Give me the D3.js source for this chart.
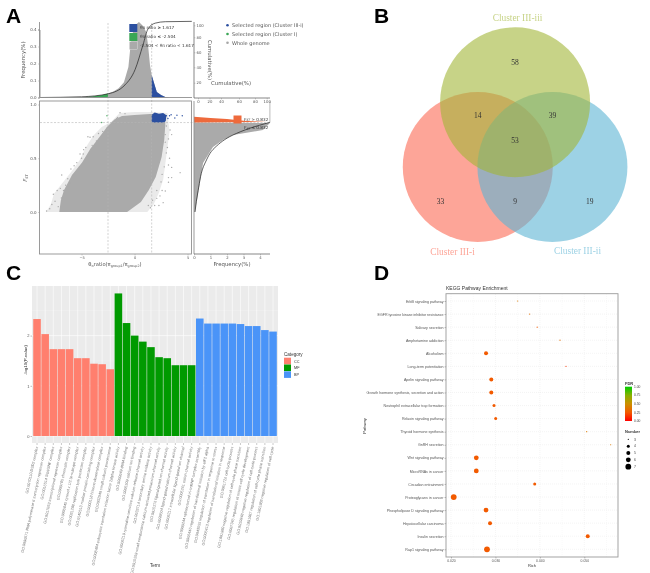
<!DOCTYPE html>
<html><head><meta charset="utf-8">
<script src="https://cdn.jsdelivr.net/npm/d3@7/dist/d3.min.js"></script>
<style>
html,body{margin:0;padding:0;background:#fff}
svg{display:block;filter:blur(.3px)}
text{font-family:"Liberation Sans",Arial,sans-serif}
</style></head><body><svg id="c" width="650" height="573" viewBox="0 0 650 573"></svg>
<script>
// ---------- Panel A data ----------
const histTop=[[-8.9,0],[-5,.002],[-4,.006],[-3,.015],[-2.504,.024],[-2,.035],[-1.5,.055],[-1,.09],[-.58,.18],[-.42,.28],[-.24,.37],[.14,.43],[.42,.444],[.8,.42],[1.1,.385],[1.27,.31],[1.46,.19],[1.617,.132],[1.84,.085],[2.1,.032],[2.5,.015],[2.9,.003],[3.35,0]];
const cumTop=[[-8.9,0],[-5,1],[-2.5,5],[-.9,17],[.05,37],[.8,70],[1.27,94],[1.95,103],[2.9,105],[5.4,105.5]];
const cloudFringe=[[-8.35,0],[-7.9,.07],[-7.6,.17],[-6.8,.27],[-6,.37],[-5.2,.48],[-4.6,.6],[-3.9,.71],[-3.1,.79],[-2.2,.84],[-1.4,.92],[0,.93],[1.5,.93],[3.1,.92],[3.3,.75],[3.1,.6],[2.9,.45],[2.7,.3],[2.3,.18],[1.8,.07],[1.2,0]];
const cloudCore=[[-7.1,0],[-6.95,.11],[-6.65,.205],[-5.9,.344],[-4.95,.46],[-4.15,.59],[-3.45,.68],[-2.6,.79],[-1.9,.86],[-1.18,.893],[0,.902],[1.46,.912],[2.88,.912],[2.9,.81],[2.8,.67],[2.55,.51],[2.0,.326],[1.35,.205],[.6,.093],[-.7,0]];
const blueCore=[[1.617,.832],[1.617,.905],[1.9,.925],[2.3,.915],[2.7,.92],[3,.9],[2.95,.85],[2.8,.832]];
const blueOut=[[3.0,.895],[3.3,.895],[3.45,.905],[3.8,.875],[4.5,.895],[4.0,.9],[3.15,.87]];
const greenOut=[[-2.6,.895],[-3.1,.832]];
const grayOut=[[4.3,.366],[3.5,.415],[3.2,.437],[3.5,.32],[3.2,.32],[3.2,.277],[2.7,.087],[2.9,.195],[2.1,.127],[-6.87,.344],[-5.45,.459],[-5.14,.54],[-4.84,.54],[-7.66,.165],[-4.2,.695],[-3.4,.73],[-1.37,.924],[3.35,.763],[3.5,.72],[-3.9,.7],[-4.4,.7],[-6,.4],[-5.7,.43],[-6.3,.31],[-7,.22],[-7.3,.2],[-6.5,.25],[-5,.5],[-4.6,.6],[-4.8,.58],[-3,.75],[-2.6,.78],[-2,.84],[-1.7,.87],[3.1,.6],[3,.55],[3.3,.5],[2.9,.65],[3.2,.68],[2.6,.2],[2.4,.15],[2.3,.06],[1.9,.06],[1.5,.04],[-8,.03],[-7.8,.07],[-8.3,.01],[-7.5,.1],[-7.2,.05],[-6.9,.13],[-6.7,.2],[-6.1,.27],[-5.5,.37],[-5.2,.42],[-4.4,.52],[-4,.62],[-3.6,.66],[-1.6,.88],[-.9,.915],[3,.8],[2.9,.72],[2.8,.42],[2.6,.35],[2.5,.28],[2.1,.2],[1.7,.11],[1.3,.06]];
const fstRight=[[.06,0],[.55,.456],[1.15,.605],[1.76,.67],[2.36,.716],[4.18,.763],[4.6,.828]];
const fstOrange=[[0,.832],[0,.885],[1,.875],[2,.865],[3,.85],[4.4,.838]];
const fstCum=[[.06,0],[.25,.2],[.67,.456],[1.27,.6],[2.36,.716],[3.4,.78],[4.6,.834]];
const cumTicksX=[0,20,40,60,80,100], cumTicksY=[20,40,60,80,100];
const thrLow=-2.504, thrHigh=1.617, thrFst=.832;
const legendA=[["Selected region (Cluster III-i)","#2b4fa0"],["Selected region (Cluster I)","#3aa655"],["Whole genome","#a6a6a6"]];
// ---------- Panel B data ----------
const vennSets=[["Cluster III-i","#fc6953",210],["Cluster III-ii","#5cb4d4",330],["Cluster III-iii","#a2b637",90]];
const vennCounts=[["58",90,1.935],["14",141,1.116],["39",39,1.116],["53",90,.125],["33",217,2.17],["9",270,1.313],["19",323,2.17]];
// ---------- Panel C data ----------
const goTerms=["GO:0070110 DSD2 complex","GO:0090571 RNA polymerase II transcription repressor complex","GO:0016514 SWI/SNF complex","GO:0017053 transcriptional repressor complex","GO:0000785 chromatin complex","GO:0005845 cytosol x 1/2 (e-subtype complex","GO:0031298 replication fork protection complex","GO:0140513 nuclear protein-containing complex","GO:0000118 histone deacetylase complex","GO:0032040 small-subunit processome",
"GO:0008484 eukaryotic translation initiation factor 2alpha kinase activity","GO:0000049 tRNA binding","GO:0005509 calcium ion binding","GO:0005219 ryanodine-sensitive calcium-release channel activity","GO:0033714 secondary amine oxidase activity","GO:0015269 small conductance calcium-activated potassium channel activity","GO:0015276 ligand-gated ion channel activity","GO:0099604 ligand-gated calcium channel activity","GO:0005217 intracellular ligand-gated ion channel","GO:0005261 cation channel activity",
"GO:0000244 spliceosomal tri-snRNP complex assembly","GO:0006446 regulation of translational initiation by eIF2 alpha","GO:0043555 regulation of translation in response to stress","GO:0006413 regulation of translational initiation in response","GO:0051726 cell cycle process","GO:1901990 negative regulation of cell cycle phase transition","GO:0007346 regulation of mitotic cell cycle development","GO:0010948 negative regulation of cell cycle process","GO:1901987 regulation of cell cycle phase transition","GO:1901988 negative regulation of cell cycle"];
const goValues=[2.33,2.03,1.73,1.73,1.73,1.55,1.55,1.44,1.43,1.33, 2.84,2.25,2.0,1.88,1.77,1.57,1.55,1.41,1.41,1.41, 2.34,2.24,2.24,2.24,2.24,2.23,2.19,2.19,2.11,2.08];
const goCats=["CC","MF","BP"];
const goColors=["#ff7f6e","#009a00","#4a94f8"];
const goTicks=[0,1,2];
// ---------- Panel D data ----------
const pathways=["ErbB signaling pathway","EGFR tyrosine kinase inhibitor resistance","Salivary secretion","Amphetamine addiction","Alcoholism","Long-term potentiation","Apelin signaling pathway","Growth hormone synthesis, secretion and action","Neutrophil extracellular trap formation","Relaxin signaling pathway","Thyroid hormone synthesis","GnRH secretion","Wnt signaling pathway","MicroRNAs in cancer","Circadian entrainment","Proteoglycans in cancer","Phospholipase D signaling pathway","Hepatocellular carcinoma","Insulin secretion","Rap1 signaling pathway"];
const richVals=[.0350,.0377,.0394,.04453,.02788,.04588,.02907,.02907,.02968,.03006,.05054,.05594,.02569,.02569,.03884,.02061,.02788,.02878,.05077,.0281];
const pathNumber=[3,3,3,3,5,3,5,5,4,4,3,3,6,6,4,7,6,5,5,7];
const pathFdr=[.4,.35,.25,.35,.25,.15,.25,.25,.25,.25,.4,.4,.25,.25,.25,.25,.25,.25,.25,.25];
const richTicks=[.02,.03,.04,.05];
const richMinor=[.025,.035,.045,.055];
const fdrTicks=[1,.75,.5,.25,0];
const numTicks=[3,4,5,6,7];

const svg=d3.select("#c");
const addText=(p,x,y,t,o={})=>{const e=p.append("text").attr("x",x).attr("y",y).text(t)
  .attr("font-size",o.s||5).attr("fill",o.f||"#444").attr("text-anchor",o.a||"start");
  if(o.r!==undefined)e.attr("transform",`rotate(${o.r} ${x} ${y})`);
  if(o.w)e.attr("font-weight",o.w); if(o.fam)e.style("font-family",o.fam); return e;};
const DJ='"DejaVu Sans",sans-serif';
[["A",6,23],["B",374,23],["C",6,280],["D",374,280]].forEach(d=>addText(svg,d[1],d[2],d[0],{s:21,w:"bold",f:"#000"}));

// ================= PANEL A =================
const A=svg.append("g");
const xR=d3.scaleLinear().domain([-8.9,5.42]).range([40.2,192]);
const yF=d3.scaleLinear().domain([0,.4]).range([97.5,29.5]);
const yFst=d3.scaleLinear().domain([0,1]).range([212,104.5]);
const xFreq=d3.scaleLinear().domain([0,4]).range([194,260]);
const yCum=d3.scaleLinear().domain([0,20,40,60,80,100,106]).range([97.5,82.7,67.3,52.3,37.3,25.3,21]);
const xCum=d3.scaleLinear().domain([0,20,40,60,80,100]).range([198,209.5,221,239,255,266.7]);
const GRAY="#aaaaaa",AX="#909090";
const areaTop=d3.area().x(d=>xR(d[0])).y0(yF(0)).y1(d=>yF(d[1]));
A.append("path").attr("d",areaTop(histTop)).attr("fill",GRAY);
A.append("path").attr("d",areaTop(histTop.filter(d=>d[0]<=thrLow))).attr("fill","#3aa655");
A.append("path").attr("d",areaTop(histTop.filter(d=>d[0]>=thrHigh))).attr("fill","#2b4fa0");
const poly=d3.line().x(d=>xR(d[0])).y(d=>yFst(d[1])).curve(d3.curveLinearClosed);
A.append("path").attr("d",poly(cloudFringe)).attr("fill",GRAY).attr("opacity",.25);
A.append("path").attr("d",poly(cloudCore)).attr("fill",GRAY);
A.selectAll(".go").data(grayOut).join("circle").attr("cx",d=>xR(d[0])).attr("cy",d=>yFst(d[1])).attr("r",.7).attr("fill",GRAY);
A.append("path").attr("d",poly(blueCore)).attr("fill","#2b4fa0");
A.selectAll(".bo").data(blueOut).join("circle").attr("cx",d=>xR(d[0])).attr("cy",d=>yFst(d[1])).attr("r",.7).attr("fill","#2b4fa0");
A.selectAll(".gr").data(greenOut).join("circle").attr("cx",d=>xR(d[0])).attr("cy",d=>yFst(d[1])).attr("r",.7).attr("fill","#3aa655");
[thrLow,thrHigh].forEach(v=>A.append("line").attr("x1",xR(v)).attr("x2",xR(v)).attr("y1",23).attr("y2",254).attr("stroke","#b5b5b5").attr("stroke-width",.6).attr("stroke-dasharray","2 1.5"));
A.append("line").attr("x1",40).attr("x2",270).attr("y1",yFst(thrFst)).attr("y2",yFst(thrFst)).attr("stroke","#b5b5b5").attr("stroke-width",.6).attr("stroke-dasharray","2 1.5");
A.append("path").attr("d",d3.line().x(d=>xR(d[0])).y(d=>yCum(d[1])).curve(d3.curveMonotoneX)(cumTop)).attr("fill","none").attr("stroke","#222").attr("stroke-width",.7);
const rArea=d3.line().x(d=>xFreq(d[0])).y(d=>yFst(d[1]));
A.append("path").attr("d",rArea([[0,0],...fstRight,[0,thrFst]])).attr("fill",GRAY);
A.append("path").attr("d",rArea(fstOrange)).attr("fill","#ee6a3c");
A.append("path").attr("d",rArea([[4.6,thrFst],[4.6,1.03]])).attr("stroke","#bbb").attr("stroke-width",1).attr("fill","none");
A.append("path").attr("d",d3.line().x(d=>xFreq(d[0])).y(d=>yFst(d[1])).curve(d3.curveMonotoneY)(fstCum)).attr("fill","none").attr("stroke","#222").attr("stroke-width",.7);
function styleAxis(g,fs,fam){g.selectAll(".domain").attr("stroke",AX).attr("stroke-width",.9);g.selectAll(".tick line").attr("stroke",AX).attr("stroke-width",.4);
  g.selectAll("text").attr("font-size",fs).attr("fill","#555").style("font-family",fam);}
const leftTop=A.append("g").attr("transform","translate(39.5,0)").call(d3.axisLeft(yF).tickValues([0,.1,.2,.3,.4]).tickFormat(d3.format(".1f")).tickSize(1.5).tickPadding(1.5));
styleAxis(leftTop,4,DJ);
A.append("line").attr("x1",39.5).attr("x2",39.5).attr("y1",22).attr("y2",97.5).attr("stroke",AX).attr("stroke-width",.9);
A.append("line").attr("x1",39.5).attr("x2",192).attr("y1",97.5).attr("y2",97.5).attr("stroke",AX).attr("stroke-width",.9);
A.append("rect").attr("x",39.5).attr("y",101).attr("width",152).attr("height",153).attr("fill","none").attr("stroke",AX).attr("stroke-width",.9);
const yScat=A.append("g").attr("transform","translate(39.5,0)").call(d3.axisLeft(yFst).tickValues([0,.5,1]).tickFormat(d3.format(".1f")).tickSize(1.5).tickPadding(1.5));
styleAxis(yScat,4,DJ);yScat.select(".domain").remove();
const xScat=A.append("g").attr("transform","translate(0,254)").call(d3.axisBottom(xR).tickValues([-5,0,5]).tickSize(1.5).tickPadding(1));
styleAxis(xScat,3.6,DJ);xScat.select(".domain").remove();
A.append("line").attr("x1",194).attr("x2",194).attr("y1",101).attr("y2",254).attr("stroke",AX).attr("stroke-width",.9);
const xRightAx=A.append("g").attr("transform","translate(0,254)").call(d3.axisBottom(xFreq).tickValues([0,1,2,3,4]).tickSize(1.5).tickPadding(1).tickFormat(d3.format("d")));
styleAxis(xRightAx,3.8,DJ);xRightAx.select(".domain").remove();
A.append("line").attr("x1",194).attr("x2",270).attr("y1",254).attr("y2",254).attr("stroke","#555").attr("stroke-width",.7);
const cy=A.append("g").attr("transform","translate(194,0)").call(d3.axisRight(yCum).tickValues(cumTicksY).tickSize(1.5).tickPadding(1).tickFormat(d3.format("d")));
styleAxis(cy,3.8,DJ);cy.select(".domain").remove();
A.append("line").attr("x1",194).attr("x2",194).attr("y1",22).attr("y2",98).attr("stroke","#555").attr("stroke-width",.7);
const cx=A.append("g").attr("transform","translate(0,98)").call(d3.axisBottom(xCum).tickValues(cumTicksX).tickSize(1.5).tickPadding(.5).tickFormat(d3.format("d")));
styleAxis(cx,3.8,DJ);cx.select(".domain").remove();
A.append("line").attr("x1",194).attr("x2",270).attr("y1",98).attr("y2",98).attr("stroke","#555").attr("stroke-width",.7);
A.append("rect").attr("x",129.3).attr("y",24).attr("width",8).attr("height",8).attr("fill","#2b4fa0");
A.append("rect").attr("x",129.3).attr("y",33).attr("width",8).attr("height",8).attr("fill","#3aa655");
A.append("rect").attr("x",129.3).attr("y",41.5).attr("width",8).attr("height",8).attr("fill",GRAY).attr("stroke","#fff").attr("stroke-width",.3);
A.append("rect").attr("x",233.5).attr("y",115.5).attr("width",8).attr("height",8).attr("fill","#ee6a3c");
const note=[["θπ ratio ≥ 1.617",28.8],["θπ ratio ≤ -2.504",38],["-2.504 < θπ ratio < 1.617",47]];
note.forEach(n=>addText(A,140,n[1],n[0],{s:4.2,fam:DJ,f:"#333"}));
addText(A,244,120.5,"F",{s:4.2,fam:DJ,f:"#333"}).attr("font-style","italic").append("tspan").attr("font-size",3).attr("dy",.8).text("ST").append("tspan").attr("dy",-.8).attr("font-size",4.2).attr("font-style","normal").text(" > 0.832");
addText(A,244,129,"F",{s:4.2,fam:DJ,f:"#333"}).attr("font-style","italic").append("tspan").attr("font-size",3).attr("dy",.8).text("ST").append("tspan").attr("dy",-.8).attr("font-size",4.2).attr("font-style","normal").text(" ≤ 0.832");
legendA.forEach((l,i)=>{const y=25.3+i*8.7;A.append("circle").attr("cx",227.5).attr("cy",y).attr("r",1.3).attr("fill",l[1]);addText(A,232,y+1.8,l[0],{s:5,fam:DJ,f:"#555"});});
addText(A,24.5,60,"Frequency(%)",{s:5.4,a:"middle",r:-90,fam:DJ,f:"#555"});
addText(A,208,60,"Cumulative(%)",{s:5.4,a:"middle",r:90,fam:DJ,f:"#555"});
addText(A,211,85,"Cumulative(%)",{s:5.4,fam:DJ,f:"#555"});
addText(A,232,266,"Frequency(%)",{s:5.4,a:"middle",fam:DJ,f:"#555"});
const fs=addText(A,27,178,"F",{s:5.4,a:"middle",r:-90,fam:DJ,f:"#555"}).attr("font-style","italic");fs.append("tspan").attr("font-size",3.6).attr("dy",1).text("ST");
const xl=addText(A,115,266,"θ",{s:5.2,a:"middle",fam:DJ,f:"#555"});
xl.append("tspan").attr("font-size",3.4).attr("dy",1).text("π");
xl.append("tspan").attr("dy",-1).text("ratio(π");
xl.append("tspan").attr("font-size",3.4).attr("dy",1).text("group1");
xl.append("tspan").attr("dy",-1).text("/π");
xl.append("tspan").attr("font-size",3.4).attr("dy",1).text("group2");
xl.append("tspan").attr("dy",-1).text(")");

// ================= PANEL B =================
const B=svg.append("g");
const vC={x:515.1,y:145.4},vD=43.1,vR=75;
const polar=(a,r)=>({x:vC.x+r*vD*Math.cos(a*Math.PI/180),y:vC.y-r*vD*Math.sin(a*Math.PI/180)});
B.selectAll(".v").data(vennSets).join("circle").each(function(d){const p=polar(d[2],1);d3.select(this).attr("cx",p.x).attr("cy",p.y);})
 .attr("r",vR).attr("fill",d=>d[1]).attr("fill-opacity",.6);
vennCounts.forEach(c=>{const p=polar(c[1],c[2]);addText(B,p.x,p.y+2.5,c[0],{s:7.5,a:"middle",fam:'"Liberation Serif",serif',f:"#333"});});
addText(B,517.5,20.5,"Cluster III-iii",{s:9.4,a:"middle",fam:'"Liberation Serif",serif',f:"#c7d387"});
addText(B,452.5,254.5,"Cluster III-i",{s:9.4,a:"middle",fam:'"Liberation Serif",serif',f:"#fda598"});
addText(B,577.5,254,"Cluster III-ii",{s:9.4,a:"middle",fam:'"Liberation Serif",serif',f:"#9dd2e5"});

// ================= PANEL C =================
const C=svg.append("g");
const xT=d3.scaleBand().domain(goTerms).range([33.25,276.8]).paddingInner(.07).paddingOuter(.0);
const yV=d3.scaleLinear().domain([0,1]).range([436,385.8]);
C.append("rect").attr("x",32).attr("y",286).attr("width",246).attr("height",157).attr("fill","#ebebeb");
[.5,1.5,2.5].forEach(v=>C.append("line").attr("x1",32).attr("x2",278).attr("y1",yV(v)).attr("y2",yV(v)).attr("stroke","#f4f4f4").attr("stroke-width",.35));
goTicks.forEach(v=>C.append("line").attr("x1",32).attr("x2",278).attr("y1",yV(v)).attr("y2",yV(v)).attr("stroke","#fff").attr("stroke-width",.6));
goTerms.forEach(t=>C.append("line").attr("x1",xT(t)+xT.bandwidth()/2).attr("x2",xT(t)+xT.bandwidth()/2).attr("y1",286).attr("y2",443).attr("stroke","#fff").attr("stroke-width",.6));
C.selectAll(".bar").data(goTerms).join("rect").attr("x",d=>xT(d)).attr("width",xT.bandwidth())
 .attr("y",(d,i)=>yV(goValues[i])).attr("height",(d,i)=>yV(0)-yV(goValues[i])).attr("fill",(d,i)=>goColors[Math.floor(i/10)]);
const yc=C.append("g").attr("transform","translate(32,0)").call(d3.axisLeft(yV).tickValues(goTicks).tickFormat(d3.format("d")).tickSize(1.5).tickPadding(1));
yc.select(".domain").remove();yc.selectAll("text").attr("font-size",4).attr("fill","#555");yc.selectAll("line").attr("stroke","#555").attr("stroke-width",.4);
goTerms.forEach(t=>{const x=xT(t)+xT.bandwidth()/2;
 C.append("line").attr("x1",x).attr("x2",x).attr("y1",443).attr("y2",445).attr("stroke","#666").attr("stroke-width",.35);
 addText(C,x+1,447,t,{s:3.8,a:"end",r:-78,f:"#777"});});
addText(C,155,567,"Term",{s:4.6,a:"middle",f:"#333"});
addText(C,26.5,360,"-log10(P-value)",{s:4.4,a:"middle",r:-90,f:"#333"});
addText(C,284,356,"Category",{s:4.6,f:"#333"});
goCats.forEach((c,i)=>{C.append("rect").attr("x",284).attr("y",357.7+i*6.8).attr("width",7).attr("height",6.6).attr("fill",goColors[i]);
 addText(C,294,362.5+i*6.8,c,{s:3.8,f:"#333"});});

// ================= PANEL D =================
const D=svg.append("g");
const xRich=d3.scaleLinear().domain([.02,.05]).range([451,584.3]);
const yPath=d3.scalePoint().domain(pathways).range([301,549.3]);
const rNum=d3.scaleOrdinal().domain(numTicks).range([.6,1.5,2,2.4,2.9]);
const cFdr=d3.scaleLinear().domain([0,.25,.5,.75,1]).range(["#ff0000","#f25a00","#cc8f00","#88b000","#00cc00"]);
pathways.forEach(p=>D.append("line").attr("x1",446).attr("x2",618).attr("y1",yPath(p)).attr("y2",yPath(p)).attr("stroke","#e2e2e2").attr("stroke-width",.4).attr("stroke-dasharray","1 1"));
richTicks.concat(richMinor).forEach(v=>D.append("line").attr("x1",xRich(v)).attr("x2",xRich(v)).attr("y1",294).attr("y2",557).attr("stroke",richTicks.includes(v)?"#e2e2e2":"#f0f0f0").attr("stroke-width",.4).attr("stroke-dasharray","1 1"));
D.selectAll(".pt").data(pathways).join("circle").attr("cx",(d,i)=>xRich(richVals[i])).attr("cy",d=>yPath(d))
 .attr("r",(d,i)=>rNum(pathNumber[i])).attr("fill",(d,i)=>cFdr(pathFdr[i]));
D.append("rect").attr("x",446).attr("y",293.7).attr("width",172).attr("height",263.3).attr("fill","none").attr("stroke","#9a9a9a").attr("stroke-width",.9);
const yd=D.append("g").attr("transform","translate(446,0)").call(d3.axisLeft(yPath).tickSize(1.5).tickPadding(1));
yd.select(".domain").remove();yd.selectAll("text").attr("font-size",3.6).attr("fill","#555");yd.selectAll("line").attr("stroke","#666").attr("stroke-width",.4);
const xd=D.append("g").attr("transform","translate(0,557)").call(d3.axisBottom(xRich).tickValues(richTicks).tickFormat(d3.format(".3f")).tickSize(1.5).tickPadding(1));
xd.select(".domain").remove();xd.selectAll("text").attr("font-size",3.4).attr("fill","#555");xd.selectAll("line").attr("stroke","#666").attr("stroke-width",.4);
addText(D,446,290,"KEGG Pathway Enrichment",{s:5,f:"#333"});
addText(D,532,567,"Rich",{s:4,a:"middle",f:"#333"});
addText(D,366,426,"Pathway",{s:4,a:"middle",r:-90,f:"#333"});
const grad=svg.append("defs").append("linearGradient").attr("id","fdrg").attr("x1",0).attr("x2",0).attr("y1",0).attr("y2",1);
fdrTicks.forEach((v,i)=>grad.append("stop").attr("offset",i/4).attr("stop-color",cFdr(v)));
const yLeg=d3.scaleLinear().domain([0,1]).range([421,386.7]);
addText(D,625,385,"FDR",{s:4,f:"#333",w:"bold"});
D.append("rect").attr("x",625).attr("y",yLeg(1)).attr("width",7).attr("height",yLeg(0)-yLeg(1)).attr("fill","url(#fdrg)");
fdrTicks.forEach(v=>addText(D,634,yLeg(v)+1.2,d3.format(".2f")(v),{s:3.3,f:"#444"}));
addText(D,625,433,"Number",{s:4,f:"#333",w:"bold"});
numTicks.forEach((n,i)=>{const y=439.3+i*6.85;D.append("circle").attr("cx",628.3).attr("cy",y).attr("r",rNum(n)).attr("fill","#000");addText(D,634,y+1.2,n,{s:3.4,f:"#444"});});
</script></body></html>
